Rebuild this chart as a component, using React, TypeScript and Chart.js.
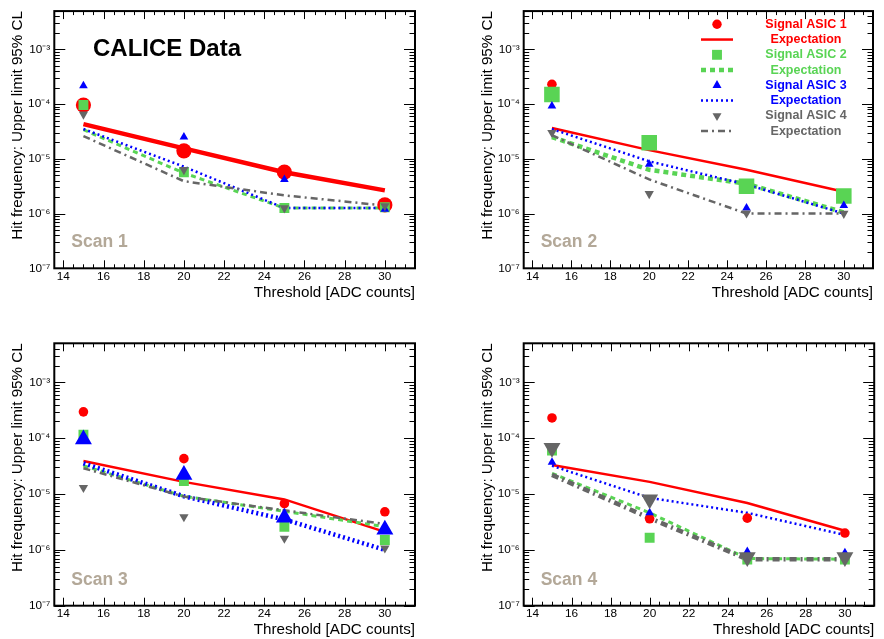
import React, { useEffect, useRef } from 'react';
import { Chart, registerables } from 'chart.js';

Chart.register(...registerables);

const FONT = "'Liberation Sans', Arial, Helvetica, sans-serif";

// ---------- data ----------
const thresholds = [15, 20, 25, 30];
const xTickValues = [14, 16, 18, 20, 22, 24, 26, 28, 30];
const yTickValues = [1e-7, 1e-6, 1e-5, 1e-4, 1e-3];
const yTickLabels = ['10⁻⁷', '10⁻⁶', '10⁻⁵', '10⁻⁴', '10⁻³'];
const asicNames = ['Signal ASIC 1', 'Signal ASIC 2', 'Signal ASIC 3', 'Signal ASIC 4'];
const expectationName = 'Expectation';
const scanNames = ['Scan 1', 'Scan 2', 'Scan 3', 'Scan 4'];
const headline = 'CALICE Data';
const xTitle = 'Threshold [ADC counts]';
const yTitle = 'Hit frequency: Upper limit 95% CL';

// Scan 1
const scan1Signal1 = [9.6e-5, 1.4e-5, 5.7e-6, 1.44e-6];
const scan1Expect1 = [4.3e-5, 1.55e-5, 5.7e-6, 2.65e-6];
const scan1Signal2 = [9.6e-5, 5.7e-6, 1.26e-6, 1.3e-6];
const scan1Expect2 = [3.4e-5, 5.5e-6, 1.26e-6, 1.26e-6];
const scan1Signal3 = [2.17e-4, 2.5e-5, 4.2e-6, 1.2e-6];
const scan1Expect3 = [3.5e-5, 7.2e-6, 1.26e-6, 1.26e-6];
const scan1Signal4 = [6.5e-5, 6.3e-6, 1.26e-6, 1.38e-6];
const scan1Expect4 = [2.6e-5, 3.9e-6, 2.15e-6, 1.4e-6];

// Scan 2
const scan2Signal1 = [2.3e-4, 2.0e-5, 3.4e-6, 2.1e-6];
const scan2Expect1 = [3.66e-5, 1.44e-5, 6.3e-6, 2.5e-6];
const scan2Signal2 = [1.5e-4, 1.97e-5, 3.16e-6, 2.1e-6];
const scan2Expect2 = [2.5e-5, 6.3e-6, 3.5e-6, 1.05e-6];
const scan2Signal3 = [9.2e-5, 8.0e-6, 1.26e-6, 1.4e-6];
const scan2Expect3 = [3.5e-5, 9.0e-6, 3.4e-6, 1.0e-6];
const scan2Signal4 = [3.0e-5, 2.3e-6, 1.02e-6, 1.0e-6];
const scan2Expect4 = [2.7e-5, 4.2e-6, 1.0e-6, 1.0e-6];

// Scan 3
const scan3Signal1 = [2.96e-4, 4.3e-5, 6.7e-6, 4.8e-6];
const scan3Expect1 = [3.9e-5, 1.65e-5, 8.0e-6, 2.1e-6];
const scan3Signal2 = [1.15e-4, 1.7e-5, 2.6e-6, 1.5e-6];
const scan3Expect2 = [3.2e-5, 9.1e-6, 4.9e-6, 2.6e-6];
const scan3Signal3 = [9.5e-5, 2.2e-5, 3.8e-6, 2.3e-6];
const scan3Expect3 = [3.55e-5, 9.1e-6, 3.5e-6, 1.0e-6];
const scan3Signal4 = [1.3e-5, 3.9e-6, 1.6e-6, 1.07e-6];
const scan3Expect4 = [2.9e-5, 9.0e-6, 5.1e-6, 2.9e-6];

// Scan 4
const scan4Signal1 = [2.3e-4, 3.6e-6, 3.7e-6, 2.0e-6];
const scan4Expect1 = [3.3e-5, 1.65e-5, 6.9e-6, 2.2e-6];
const scan4Signal2 = [6.0e-5, 1.65e-6, 6.7e-7, 6.7e-7];
const scan4Expect2 = [2.35e-5, 4.6e-6, 7.0e-7, 6.8e-7];
const scan4Signal3 = [3.7e-5, 4.6e-6, 9.3e-7, 8.9e-7];
const scan4Expect3 = [3.2e-5, 8.5e-6, 4.6e-6, 1.85e-6];
const scan4Signal4 = [6.7e-5, 8.0e-6, 7.4e-7, 7.4e-7];
const scan4Expect4 = [2.2e-5, 3.7e-6, 6.8e-7, 6.8e-7];

const scanSignals = [
  [scan1Signal1, scan1Signal2, scan1Signal3, scan1Signal4],
  [scan2Signal1, scan2Signal2, scan2Signal3, scan2Signal4],
  [scan3Signal1, scan3Signal2, scan3Signal3, scan3Signal4],
  [scan4Signal1, scan4Signal2, scan4Signal3, scan4Signal4],
];
const scanExpectations = [
  [scan1Expect1, scan1Expect2, scan1Expect3, scan1Expect4],
  [scan2Expect1, scan2Expect2, scan2Expect3, scan2Expect4],
  [scan3Expect1, scan3Expect2, scan3Expect3, scan3Expect4],
  [scan4Expect1, scan4Expect2, scan4Expect3, scan4Expect4],
];

// ---------- styles ----------
const asicColors = ['#ff0000', '#59d454', '#0000ff', '#666666'];
const asicPointStyles = ['circle', 'rect', 'triangle', 'triangle'];
const asicPointRotation = [0, 0, 0, 180];
const smallRadius = [4.8, 7, 5, 5.4];
const bigRadius = [7.6, 11, 9.8, 9.8];
const legendRadius = [4.7, 7, 5.2, 5.2];
const lineWidthNormal = [2.5, 3, 2.5, 2.5];
const lineWidthHighlight = 4.5;
const asicDash = [[], [5, 4], [2, 3], [7, 4, 2, 4]];
const scanTextColor = '#b3a898';

const TITLE_SIZE = 15.2;
const TITLE_HALF = (TITLE_SIZE * 1.2) / 2;

const panelLayouts = [
  { x: 0, y: 0, w: 442, h: 320, area: { l: 54.3, t: 6.7, r: 415, b: 268.3 }, yTitleX: 18, xTitleY: 292.7 },
  { x: 442, y: 0, w: 442, h: 320, area: { l: 81.7, t: 6.7, r: 441.2, b: 268.3 }, yTitleX: 45.5, xTitleY: 292.7 },
  { x: 0, y: 320, w: 442, h: 320, area: { l: 54.3, t: 23.3, r: 415, b: 285.7 }, yTitleX: 18, xTitleY: 310 },
  { x: 442, y: 320, w: 442, h: 320, area: { l: 81.7, t: 23.3, r: 441.2, b: 285.7 }, yTitleX: 45.5, xTitleY: 310 },
];

function drawMarker(ctx: CanvasRenderingContext2D, style: string, x: number, y: number, r: number, rot: number, color: string) {
  ctx.fillStyle = color;
  ctx.beginPath();
  if (style === 'circle') {
    ctx.arc(x, y, r, 0, Math.PI * 2);
  } else if (style === 'rect') {
    const s = r * Math.SQRT1_2;
    ctx.rect(x - s, y - s, 2 * s, 2 * s);
  } else {
    let a = (rot * Math.PI) / 180;
    ctx.moveTo(x + Math.sin(a) * r, y - Math.cos(a) * r);
    a += (2 * Math.PI) / 3;
    ctx.lineTo(x + Math.sin(a) * r, y - Math.cos(a) * r);
    a += (2 * Math.PI) / 3;
    ctx.lineTo(x + Math.sin(a) * r, y - Math.cos(a) * r);
    ctx.closePath();
  }
  ctx.fill();
}

function makePlugin(scanIndex: number) {
  return {
    id: 'rootFrame' + scanIndex,
    afterDatasetsDraw(chart: any) {
      const { ctx, chartArea: a, scales } = chart;
      const xs = scales.x;
      const ys = scales.y;
      ctx.save();
      ctx.strokeStyle = '#000';
      ctx.lineWidth = 1;
      ctx.beginPath();
      for (let v = Math.ceil(xs.min * 2) / 2; v <= xs.max + 1e-9; v += 0.5) {
        const px = Math.round(xs.getPixelForValue(v)) + 0.5;
        const major = Math.abs(v / 2 - Math.round(v / 2)) < 1e-9;
        const len = major ? 8 : 4;
        ctx.moveTo(px, a.bottom);
        ctx.lineTo(px, a.bottom - len);
        ctx.moveTo(px, a.top);
        ctx.lineTo(px, a.top + len);
      }
      for (let d = -8; d <= -2; d++) {
        for (let k = 1; k <= 9; k++) {
          const v = k * Math.pow(10, d);
          if (v < ys.min * 0.999 || v > ys.max * 1.001) continue;
          const py = Math.round(ys.getPixelForValue(v)) + 0.5;
          const len = k === 1 ? 11 : 5.5;
          ctx.moveTo(a.left, py);
          ctx.lineTo(a.left + len, py);
          ctx.moveTo(a.right, py);
          ctx.lineTo(a.right - len, py);
        }
      }
      ctx.stroke();
      ctx.lineWidth = 2;
      ctx.strokeRect(a.left, a.top, a.right - a.left, a.bottom - a.top);

      // scan label
      ctx.fillStyle = scanTextColor;
      ctx.font = `bold 17.5px ${FONT}`;
      ctx.textAlign = 'left';
      ctx.textBaseline = 'alphabetic';
      ctx.fillText(scanNames[scanIndex], a.left + 17, a.bottom - 21);

      if (scanIndex === 0) {
        ctx.fillStyle = '#000';
        ctx.font = `bold 24px ${FONT}`;
        ctx.fillText(headline, 93, 56);
      }

      if (scanIndex === 1) {
        const ds = chart.data.datasets;
        const rowY0 = 24.3;
        const rowStep = 15.25;
        const markerX = 275;
        const lineX0 = 259;
        const lineX1 = 291;
        const textX = 364;
        ctx.font = `bold 12.5px ${FONT}`;
        ctx.textAlign = 'center';
        ctx.textBaseline = 'middle';
        for (let i = 0; i < 4; i++) {
          const sig = ds.find((d: any) => d.asic === i && d.kind === 'signal');
          const exp = ds.find((d: any) => d.asic === i && d.kind === 'exp');
          const y1 = rowY0 + 2 * i * rowStep;
          const y2 = y1 + rowStep;
          drawMarker(ctx, sig.pointStyle, markerX, y1, legendRadius[i], sig.pointRotation, sig.backgroundColor);
          ctx.save();
          ctx.strokeStyle = exp.borderColor;
          ctx.lineWidth = exp.borderWidth;
          ctx.setLineDash(exp.borderDash);
          ctx.beginPath();
          ctx.moveTo(lineX0, y2);
          ctx.lineTo(lineX1, y2);
          ctx.stroke();
          ctx.restore();
          ctx.fillStyle = asicColors[i];
          ctx.fillText(sig.label, textX, y1);
          ctx.fillText(exp.label, textX, y2);
        }
      }
      ctx.restore();
    },
  };
}

function makeConfig(scanIndex: number): any {
  const L = panelLayouts[scanIndex];
  const padLeft = L.yTitleX - TITLE_HALF;
  const padBottom = L.h - L.xTitleY - TITLE_HALF;
  const datasets: any[] = [];
  for (let i = 0; i < 4; i++) {
    const hl = i === scanIndex;
    datasets.push({
      kind: 'exp',
      asic: i,
      label: expectationName,
      data: thresholds.map((t, k) => ({ x: t, y: scanExpectations[scanIndex][i][k] })),
      showLine: true,
      borderColor: asicColors[i],
      backgroundColor: asicColors[i],
      borderWidth: hl ? lineWidthHighlight : lineWidthNormal[i],
      borderDash: asicDash[i],
      pointRadius: 0,
      tension: 0,
      order: 8 - i,
    });
  }
  for (let i = 0; i < 4; i++) {
    const hl = i === scanIndex;
    datasets.push({
      kind: 'signal',
      asic: i,
      label: asicNames[i],
      data: thresholds.map((t, k) => ({ x: t, y: scanSignals[scanIndex][i][k] })),
      showLine: false,
      pointStyle: asicPointStyles[i],
      pointRotation: asicPointRotation[i],
      pointRadius: hl ? bigRadius[i] : smallRadius[i],
      pointBorderWidth: 0,
      borderWidth: 0,
      backgroundColor: asicColors[i],
      borderColor: asicColors[i],
      order: 4 - i,
    });
  }
  return {
    type: 'scatter',
    data: { datasets },
    plugins: [makePlugin(scanIndex)],
    options: {
      responsive: false,
      animation: false,
      devicePixelRatio: 1,
      layout: {
        padding: { left: padLeft, top: L.area.t, right: L.w - L.area.r, bottom: padBottom },
      },
      plugins: { legend: { display: false }, tooltip: { enabled: false } },
      scales: {
        x: {
          type: 'linear',
          min: 13.55,
          max: 31.5,
          grid: { display: false, drawTicks: false },
          border: { display: false },
          afterBuildTicks: (s: any) => {
            s.ticks = xTickValues.map((v) => ({ value: v }));
          },
          afterFit: (s: any) => {
            s.height = L.h - padBottom - L.area.b;
          },
          ticks: {
            autoSkip: false,
            maxRotation: 0,
            padding: 1,
            color: '#000',
            font: { family: FONT, size: 11.8 },
            callback: (v: any) => String(v),
          },
          title: {
            display: true,
            text: xTitle,
            align: 'end',
            color: '#000',
            padding: 0,
            font: { family: FONT, size: TITLE_SIZE },
          },
        },
        y: {
          type: 'logarithmic',
          min: 1e-7,
          max: 5e-3,
          grid: { display: false, drawTicks: false },
          border: { display: false },
          afterBuildTicks: (s: any) => {
            s.ticks = yTickValues.map((v) => ({ value: v }));
          },
          afterFit: (s: any) => {
            s.width = L.area.l - padLeft;
          },
          ticks: {
            autoSkip: false,
            padding: 4,
            color: '#000',
            font: { family: FONT, size: 11.8 },
            callback: (_v: any, i: number) => yTickLabels[i],
          },
          title: {
            display: true,
            text: yTitle,
            align: 'end',
            color: '#000',
            padding: 0,
            font: { family: FONT, size: TITLE_SIZE },
          },
        },
      },
    },
  };
}

function Panel({ index }: { index: number }) {
  const ref = useRef<HTMLCanvasElement>(null);
  const L = panelLayouts[index];
  useEffect(() => {
    if (!ref.current) return;
    const chart = new Chart(ref.current, makeConfig(index));
    return () => chart.destroy();
  }, [index]);
  return (
    <canvas
      ref={ref}
      width={L.w}
      height={L.h}
      style={{ position: 'absolute', left: L.x, top: L.y, width: L.w, height: L.h }}
    />
  );
}

export default function App() {
  return (
    <div
      style={{
        position: 'fixed',
        left: 0,
        top: 0,
        width: 884,
        height: 639,
        overflow: 'hidden',
        background: '#fff',
      }}
    >
      {[0, 1, 2, 3].map((i) => (
        <Panel key={i} index={i} />
      ))}
    </div>
  );
}
